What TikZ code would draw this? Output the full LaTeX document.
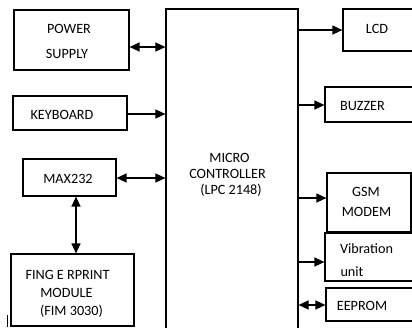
\documentclass[tikz,border=0pt]{standalone}
\usepackage{fontspec}
\setmainfont{Carlito}
\usetikzlibrary{arrows.meta}
\tikzset{
  box/.style={draw, line width=1.2pt, rectangle, inner sep=0pt},
  lbl/.style={inner sep=0pt, anchor=base, font=\fontsize{14.2}{15}\selectfont},
  onearrow/.style={line width=1.4pt, -{Triangle[length=10pt,width=9pt]}},
  twoarrow/.style={line width=1.4pt, {Triangle[length=10pt,width=9pt]}-{Triangle[length=10pt,width=9pt]}},
}
\begin{document}
\begin{tikzpicture}[x=1pt,y=-1pt]
\useasboundingbox (0,0) rectangle (412,327);
\clip (0,0) rectangle (412,327);
% boxes
\node[box, minimum width=115pt, minimum height=60pt] (ps) at (71.5,40) {};
\node[box, minimum width=114pt, minimum height=34pt] (kb) at (70,113) {};
\node[box, minimum width=93pt, minimum height=37pt] (mx) at (69.5,177.5) {};
\node[box, minimum width=123pt, minimum height=72pt] (fp) at (72.5,290) {};
\node[box, minimum width=132pt, minimum height=351pt] (mc) at (232,184.5) {};
\node[box, minimum width=97pt, minimum height=42pt] (lcd) at (391.5,30) {};
\node[box, minimum width=115pt, minimum height=35pt] (bz) at (382.5,104.5) {};
\node[box, minimum width=84pt, minimum height=59pt] (gsm) at (369,202.5) {};
\node[box, minimum width=115pt, minimum height=48pt] (vib) at (382.5,257) {};
\node[box, minimum width=114pt, minimum height=33pt] (ee) at (383,304.5) {};
% stray mark
\coordinate (m1) at (7.5,315);
\coordinate (m2) at (7.5,327);
\draw[line width=1pt] (m1) -- (m2);
% labels
\node[lbl] (t1) at (69,33) {POWER};
\node[lbl] (t2) at (67,58) {SUPPLY};
\node[lbl] (t3) at (62,119) {KEYBOARD};
\node[lbl] (t4) at (377,33) {LCD};
\node[lbl] (t5) at (362.5,110) {BUZZER};
\node[lbl] (t6) at (229.5,162) {MICRO};
\node[lbl] (t7) at (227.5,178) {CONTROLLER};
\node[lbl] (t8) at (231,194) {(LPC 2148)};
\node[lbl] (t9) at (68,183) {MAX232};
\node[lbl] (t10) at (67.5,279) {FING E RPRINT};
\node[lbl] (t11) at (66.5,297) {MODULE};
\node[lbl] (t12) at (71.5,315) {(FIM 3030)};
\node[lbl] (t13) at (366,196) {GSM};
\node[lbl] (t14) at (366.5,216) {MODEM};
\node[lbl] (t15) at (366.5,253) {Vibration};
\node[lbl] (t16) at (352,276) {unit};
\node[lbl] (t17) at (362,310) {EEPROM};
% connectors
\draw[twoarrow] (ps.east |- 0,47) -- (mc.west |- 0,47);
\draw[onearrow] (kb.east |- 0,114) -- (mc.west |- 0,114);
\draw[twoarrow] (mx.east |- 0,178) -- (mc.west |- 0,178);
\draw[twoarrow] (mx.south -| 76,0) -- (fp.north -| 76,0);
\draw[onearrow] (mc.east |- 0,30) -- (lcd.west |- 0,30);
\draw[onearrow] (mc.east |- 0,105) -- (bz.west |- 0,105);
\draw[onearrow] (mc.east |- 0,198) -- (gsm.west |- 0,198);
\draw[onearrow] (mc.east |- 0,262) -- (vib.west |- 0,262);
\draw[twoarrow] (mc.east |- 0,305) -- (ee.west |- 0,305);
\end{tikzpicture}
\end{document}
